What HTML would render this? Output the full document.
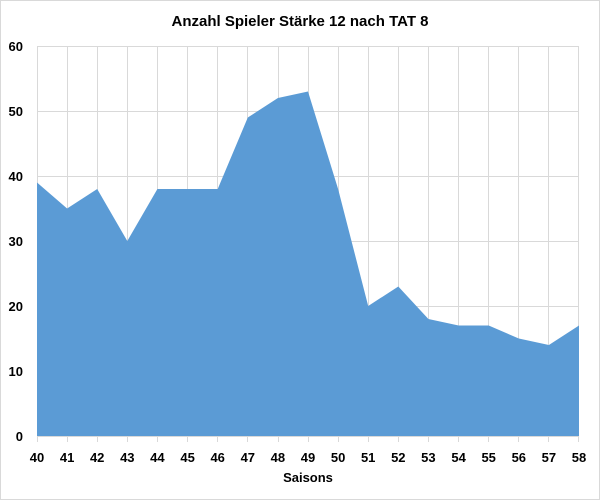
<!DOCTYPE html>
<html><head><style>body{margin:0;background:#fff}svg{display:block}</style></head><body>
<svg width="600" height="500" xmlns="http://www.w3.org/2000/svg" font-family="Liberation Sans, sans-serif">
<rect x="0.5" y="0.5" width="599" height="499" fill="#fff" stroke="#d9d9d9"/>
<text x="300" y="26" text-anchor="middle" font-size="15" font-weight="bold" fill="#000">Anzahl Spieler Stärke 12 nach TAT 8</text>
<g stroke="#d9d9d9" stroke-width="1">
<line x1="37" y1="46.5" x2="579" y2="46.5"/><line x1="37" y1="111.5" x2="579" y2="111.5"/><line x1="37" y1="176.5" x2="579" y2="176.5"/><line x1="37" y1="241.5" x2="579" y2="241.5"/><line x1="37" y1="306.5" x2="579" y2="306.5"/><line x1="37" y1="371.5" x2="579" y2="371.5"/>
<line x1="37.5" y1="46" x2="37.5" y2="442"/><line x1="67.5" y1="46" x2="67.5" y2="442"/><line x1="97.5" y1="46" x2="97.5" y2="442"/><line x1="127.5" y1="46" x2="127.5" y2="442"/><line x1="157.5" y1="46" x2="157.5" y2="442"/><line x1="187.5" y1="46" x2="187.5" y2="442"/><line x1="217.5" y1="46" x2="217.5" y2="442"/><line x1="247.5" y1="46" x2="247.5" y2="442"/><line x1="278.5" y1="46" x2="278.5" y2="442"/><line x1="308.5" y1="46" x2="308.5" y2="442"/><line x1="338.5" y1="46" x2="338.5" y2="442"/><line x1="368.5" y1="46" x2="368.5" y2="442"/><line x1="398.5" y1="46" x2="398.5" y2="442"/><line x1="428.5" y1="46" x2="428.5" y2="442"/><line x1="458.5" y1="46" x2="458.5" y2="442"/><line x1="488.5" y1="46" x2="488.5" y2="442"/><line x1="518.5" y1="46" x2="518.5" y2="442"/><line x1="548.5" y1="46" x2="548.5" y2="442"/><line x1="578.5" y1="46" x2="578.5" y2="442"/>
</g>
<polygon fill="#5b9bd5" points="37,182.5 67.1,208.5 97.2,189 127.3,241 157.4,189 187.6,189 217.7,189 247.8,117.5 277.9,98 308,91.5 338.1,189 368.2,306 398.3,286.5 428.4,319 458.6,325.5 488.7,325.5 518.8,338.5 548.9,345 579,325.5 579,436 37,436"/>
<line x1="37" y1="436.5" x2="579" y2="436.5" stroke="#d9d9d9"/>
<g font-size="13" font-weight="bold" fill="#000" text-anchor="end">
<text x="23" y="51">60</text><text x="23" y="116">50</text><text x="23" y="181">40</text><text x="23" y="246">30</text><text x="23" y="311">20</text><text x="23" y="376">10</text><text x="23" y="441">0</text>
</g>
<g font-size="13" font-weight="bold" fill="#000" text-anchor="middle">
<text x="37" y="462">40</text><text x="67.1" y="462">41</text><text x="97.2" y="462">42</text><text x="127.3" y="462">43</text><text x="157.4" y="462">44</text><text x="187.6" y="462">45</text><text x="217.7" y="462">46</text><text x="247.8" y="462">47</text><text x="277.9" y="462">48</text><text x="308" y="462">49</text><text x="338.1" y="462">50</text><text x="368.2" y="462">51</text><text x="398.3" y="462">52</text><text x="428.4" y="462">53</text><text x="458.6" y="462">54</text><text x="488.7" y="462">55</text><text x="518.8" y="462">56</text><text x="548.9" y="462">57</text><text x="579" y="462">58</text>
</g>
<text x="308" y="482" text-anchor="middle" font-size="13" font-weight="bold">Saisons</text>
</svg>
</body></html>
